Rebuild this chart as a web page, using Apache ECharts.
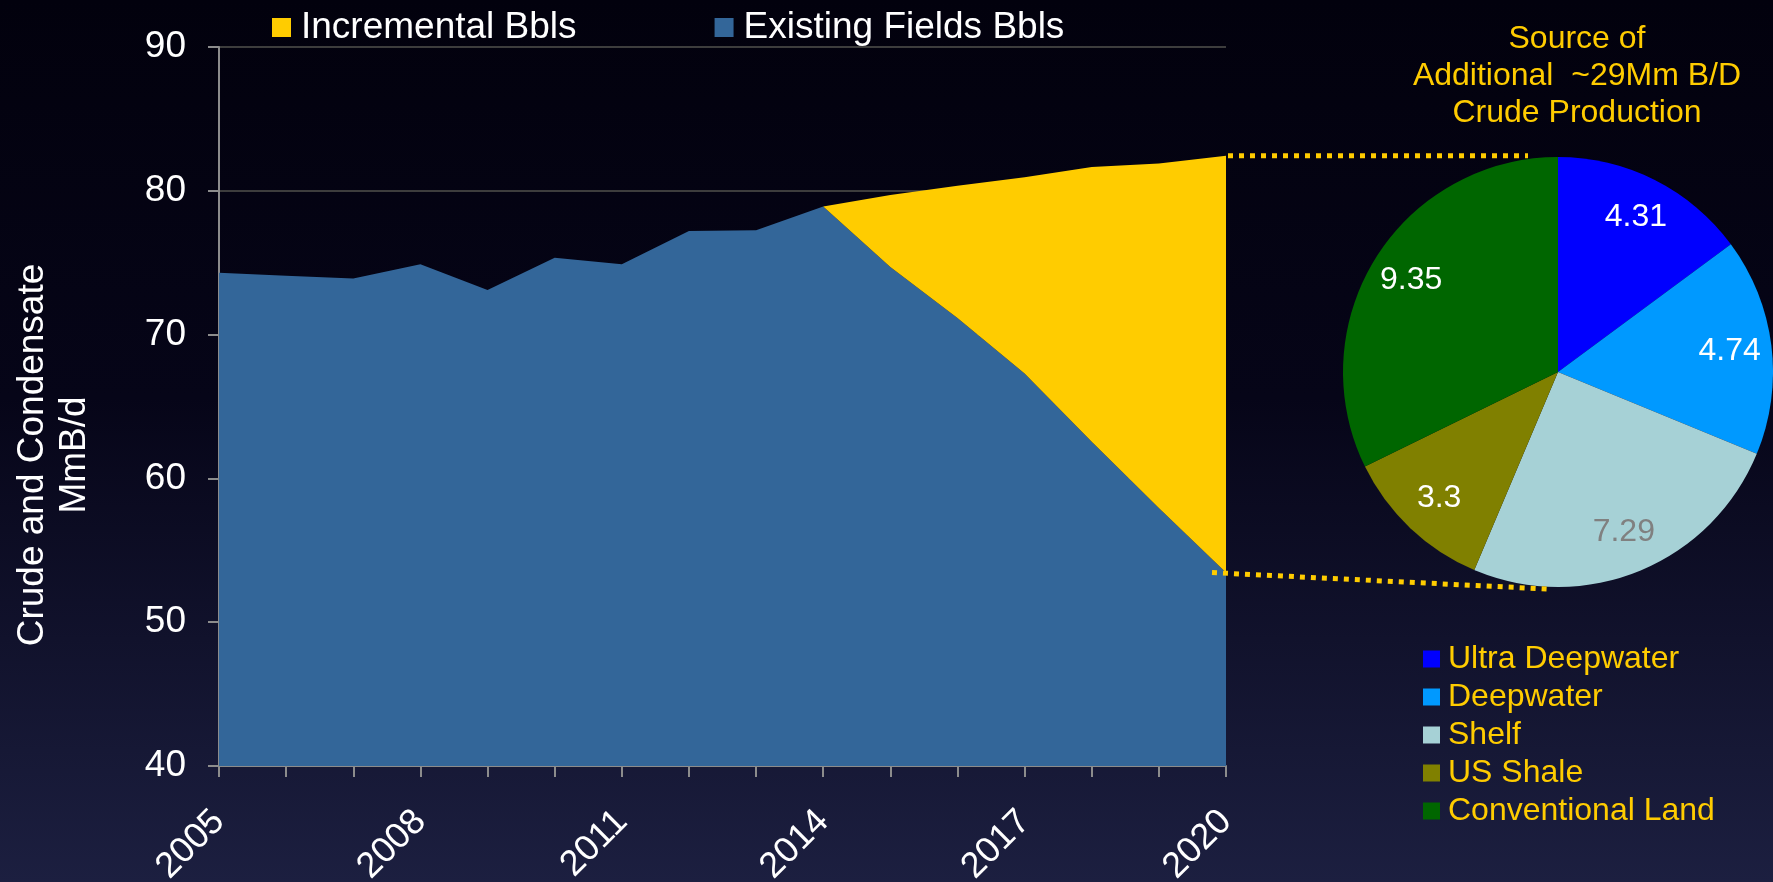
<!DOCTYPE html>
<html>
<head>
<meta charset="utf-8">
<title>Crude and Condensate Production</title>
<script src="https://cdn.jsdelivr.net/npm/echarts@6/dist/echarts.min.js"></script>
<style>
  html, body { margin: 0; padding: 0; background: #03020f; }
  #chart { width: 1773px; height: 882px; }
</style>
</head>
<body>
<div id="chart"></div>
<script>
// Years on the category axis
const years = ['2005', '2006', '2007', '2008', '2009', '2010', '2011', '2012',
               '2013', '2014', '2015', '2016', '2017', '2018', '2019', '2020'];

// Production from existing fields, MmB/d
const existingFields = [74.3, 74.1, 73.9, 74.9, 73.1, 75.35, 74.9, 77.2,
                        77.25, 78.9, 74.7, 71.15, 67.3, 62.55, 57.95, 53.45];

// Incremental production needed on top of existing fields, MmB/d
const incremental = [null, null, null, null, null, null, null, null,
                     null, 0, 5.0, 9.2, 13.65, 19.1, 23.95, 28.99];

// Source split of the additional ~29 MmB/d
const sourceNames = ['Ultra Deepwater', 'Deepwater', 'Shelf', 'US Shale', 'Conventional Land'];
const sourceValues = [4.31, 4.74, 7.29, 3.3, 9.35];
const sourceColors = ['#0000FF', '#0099FF', '#A6D1D6', '#808000', '#006600'];
const sourceLabelColors = ['#FFFFFF', '#FFFFFF', '#808080', '#FFFFFF', '#FFFFFF'];

const FONT = '"Liberation Sans", Arial, sans-serif';
const YELLOW = '#FFCC00';
const BLUE = '#336699';
const AXIS_GRAY = '#8C8C8C';

// Pie geometry (px)
const PIE_CX = 1558, PIE_CY = 372, PIE_R = 215;

const chart = echarts.init(document.getElementById('chart'), null, { renderer: 'canvas' });

const option = {
  backgroundColor: new echarts.graphic.LinearGradient(0, 0, 0, 1, [
    { offset: 0, color: '#02010d' },
    { offset: 0.45, color: '#060518' },
    { offset: 1, color: '#1c1f40' }
  ]),
  animation: false,
  textStyle: { fontFamily: FONT },
  title: {
    text: 'Source of\nAdditional  ~29Mm B/D\nCrude Production',
    left: 1572,
    top: 16,
    textAlign: 'center',
    textStyle: { color: YELLOW, fontSize: 32, fontWeight: 'normal', lineHeight: 37, fontFamily: FONT }
  },
  legend: [
    {
      data: ['Incremental Bbls', 'Existing Fields Bbls'],
      left: 267,
      top: 4,
      orient: 'horizontal',
      icon: 'rect',
      itemWidth: 19,
      itemHeight: 19,
      itemGap: 138,
      selectedMode: false,
      textStyle: { color: '#FFFFFF', fontSize: 37, fontFamily: FONT, padding: [0, 0, 0, 5] }
    },
    {
      data: sourceNames,
      left: 1418,
      top: 638,
      orient: 'vertical',
      icon: 'rect',
      itemWidth: 17,
      itemHeight: 17,
      itemGap: 6,
      selectedMode: false,
      textStyle: { color: YELLOW, fontSize: 32, lineHeight: 32, fontFamily: FONT, padding: [0, 0, 0, 3] }
    }
  ],
  grid: { left: 219, right: 547, top: 47, bottom: 116, containLabel: false, outerBoundsMode: 'none' },
  xAxis: {
    type: 'category',
    data: years,
    boundaryGap: false,
    axisLine: { show: true, lineStyle: { color: AXIS_GRAY, width: 2 } },
    axisTick: { show: true, interval: 0, length: 11, lineStyle: { color: AXIS_GRAY, width: 2 } },
    axisLabel: {
      interval: 2,
      rotate: 45,
      margin: 50,
      color: '#FFFFFF',
      fontSize: 36,
      fontFamily: FONT
    },
    splitLine: { show: false }
  },
  yAxis: {
    type: 'value',
    min: 40,
    max: 90,
    interval: 10,
    axisLine: { show: true, lineStyle: { color: AXIS_GRAY, width: 2 } },
    axisTick: { show: true, length: 11, lineStyle: { color: AXIS_GRAY, width: 2 } },
    axisLabel: { color: '#FFFFFF', fontSize: 37, margin: 33, fontFamily: FONT },
    splitLine: { show: true, lineStyle: { color: '#3d3d3d', width: 2 } }
  },
  series: [
    {
      name: 'Existing Fields Bbls',
      type: 'line',
      stack: 'production',
      data: existingFields,
      showSymbol: false,
      symbol: 'none',
      lineStyle: { width: 0, color: BLUE },
      itemStyle: { color: BLUE },
      areaStyle: { color: BLUE, opacity: 1 },
      silent: true,
      z: 3
    },
    {
      name: 'Incremental Bbls',
      type: 'line',
      stack: 'production',
      data: incremental,
      showSymbol: false,
      symbol: 'none',
      lineStyle: { width: 0, color: YELLOW },
      itemStyle: { color: YELLOW },
      areaStyle: { color: YELLOW, opacity: 1 },
      silent: true,
      z: 3
    },
    {
      name: 'Source',
      type: 'pie',
      center: [PIE_CX, PIE_CY],
      radius: PIE_R,
      startAngle: 90,
      clockwise: true,
      silent: true,
      label: { show: false },
      labelLine: { show: false },
      data: sourceNames.map((n, i) => ({
        name: n,
        value: sourceValues[i],
        itemStyle: { color: sourceColors[i] }
      }))
    },
    {
      // value labels, set further out than the default inside position
      name: 'Source values',
      type: 'pie',
      center: [PIE_CX, PIE_CY],
      radius: [125, PIE_R],
      startAngle: 90,
      clockwise: true,
      silent: true,
      itemStyle: { color: 'rgba(0,0,0,0)' },
      label: {
        show: true,
        position: 'inside',
        fontSize: 32,
        fontFamily: FONT,
        formatter: (p) => String(p.value)
      },
      labelLine: { show: false },
      data: sourceNames.map((n, i) => ({
        name: n,
        value: sourceValues[i],
        itemStyle: { color: 'rgba(0,0,0,0)' },
        label: { color: sourceLabelColors[i] }
      })),
      z: 4
    }
  ],
  graphic: [
    {
      id: 'yTitle',
      type: 'text',
      x: 54,
      y: 455,
      rotation: Math.PI / 2,
      style: {
        text: 'Crude and Condensate\nMmB/d',
        fill: '#FFFFFF',
        font: '37px ' + FONT,
        lineHeight: 42,
        align: 'center',
        verticalAlign: 'middle'
      }
    }
  ]
};

chart.setOption(option);

// Dotted connectors from the 2020 area edges out to the pie
const last = years.length - 1;
const topPt = chart.convertToPixel({ seriesIndex: 0 }, [last, existingFields[last] + incremental[last]]);
const botPt = chart.convertToPixel({ seriesIndex: 0 }, [last, existingFields[last]]);
const dotStyle = () => ({ stroke: YELLOW, fill: null, lineWidth: 5, lineDash: [5, 6] });
chart.setOption({
  graphic: [
    {
      id: 'connectorTop',
      type: 'line', z: 100, silent: true,
      shape: { x1: topPt[0] + 2, y1: topPt[1], x2: PIE_CX - 30, y2: topPt[1] },
      style: dotStyle()
    },
    {
      id: 'connectorBottom',
      type: 'line', z: 100, silent: true,
      shape: { x1: botPt[0] - 14, y1: botPt[1], x2: PIE_CX - 11, y2: PIE_CY + PIE_R + 2 },
      style: dotStyle()
    }
  ]
});
</script>
</body>
</html>
